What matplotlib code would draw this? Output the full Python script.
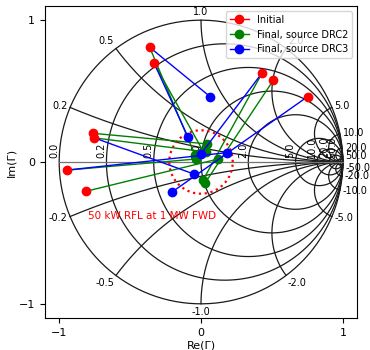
import numpy as np
import matplotlib
matplotlib.use('Agg')
import matplotlib.pyplot as plt

# smith chart grid values
resistances = [0.0, 0.2, 0.5, 1.0, 2.0, 5.0, 10.0, 20.0, 50.0]
reactances = [0.2, 0.5, 1.0, 2.0, 5.0, 10.0, 20.0, 50.0]

# reflection coefficients
init_re = [-0.362, -0.330, 0.433, 0.511, 0.752, -0.759, -0.752, -0.943, -0.809]
init_im = [0.809, 0.695, 0.631, 0.578, 0.461, 0.202, 0.170, -0.057, -0.206]

drc2_re = [-0.043, 0.014, 0.014, 0.028, np.nan, 0.040, 0.035, -0.035, 0.121]
drc2_im = [0.050, 0.078, -0.128, -0.149, np.nan, 0.128, 0.071, 0.021, 0.021]

drc3_re = [0.064, -0.092, -0.002, np.nan, -0.206, np.nan, -0.050, 0.182, np.nan]
drc3_im = [0.461, 0.177, 0.055, np.nan, -0.213, np.nan, -0.085, 0.066, np.nan]

rfl_power = 50e3
fwd_power = 1e6

fig = plt.figure(figsize=(3.7, 3.5), dpi=100)
ax = fig.add_axes([0.1216, 0.0914, 0.8433, 0.8915])

grid_kw = dict(color='0.1', lw=0.9, zorder=1)

# resistance circles
t = np.linspace(0, 2 * np.pi, 400)
for r in resistances:
    c = r / (1 + r)
    rad = 1 / (1 + r)
    ax.plot(c + rad * np.cos(t), rad * np.sin(t), **grid_kw)
    g = (r - 1) / (r + 1)
    ax.text(g, 0.03, '%.1f' % r, rotation=90, ha='right', va='bottom', fontsize=7, zorder=2)

# reactance arcs
rr = np.concatenate([[0], np.logspace(-3, 4, 600)])
for x in reactances:
    for s in (1, -1):
        z = rr + 1j * s * x
        gam = (z - 1) / (z + 1)
        ax.plot(gam.real, gam.imag, **grid_kw)
        p = (1j * s * x - 1) / (1j * s * x + 1)
        ang = np.angle(p)
        px, py = 1.02 * np.cos(ang), 1.02 * np.sin(ang)
        ha = 'left' if np.cos(ang) > 0.2 else ('right' if np.cos(ang) < -0.2 else 'center')
        va = 'bottom' if np.sin(ang) > 0.5 else ('top' if np.sin(ang) < -0.5 else 'center')
        ax.text(px, py, '%.1f' % (s * x), ha=ha, va=va, fontsize=7, zorder=2)

ax.plot([-1, 1], [0, 0], color='0.45', lw=0.9, zorder=1)

# reflected power limit
lim = np.sqrt(rfl_power / fwd_power)
ax.plot(lim * np.cos(t), lim * np.sin(t), color='red', ls=':', lw=1.6, zorder=3)
ax.text(-0.80, -0.383, '50 kW RFL at 1 MW FWD', color='red', fontsize=7.5,
        ha='left', va='center', zorder=3)

# trajectories
for i in range(len(init_re)):
    ax.plot([init_re[i], drc2_re[i]], [init_im[i], drc2_im[i]], color='green', lw=1,
            zorder=4)
    ax.plot(drc2_re[i], drc2_im[i], 'o', color='green', ms=6, zorder=5)
for i in range(len(init_re)):
    ax.plot([init_re[i], drc3_re[i]], [init_im[i], drc3_im[i]], color='blue', lw=1,
            zorder=6)
    ax.plot(drc3_re[i], drc3_im[i], 'o', color='blue', ms=6, zorder=7)
ax.plot(init_re, init_im, 'o', color='red', ms=6, zorder=8)

# legend proxies
h1, = ax.plot([], [], 'o-', color='red', ms=6, lw=1)
h2, = ax.plot([], [], 'o-', color='green', ms=6, lw=1)
h3, = ax.plot([], [], 'o-', color='blue', ms=6, lw=1)
ax.legend([h1, h2, h3], ['Initial', 'Final, source DRC2', 'Final, source DRC3'],
          loc='upper right', fontsize=7)

ax.set_xlim(-1.1, 1.1)
ax.set_ylim(-1.1, 1.1)
ax.set_aspect('equal')
ax.set_xticks([-1, 0, 1])
ax.set_yticks([-1, 0, 1])
ax.tick_params(labelsize=8)
ax.set_xlabel('Re(Γ)', fontsize=8, labelpad=2)
ax.set_ylabel('Im(Γ)', fontsize=8, labelpad=2)

fig.savefig('out.png', dpi=100)
